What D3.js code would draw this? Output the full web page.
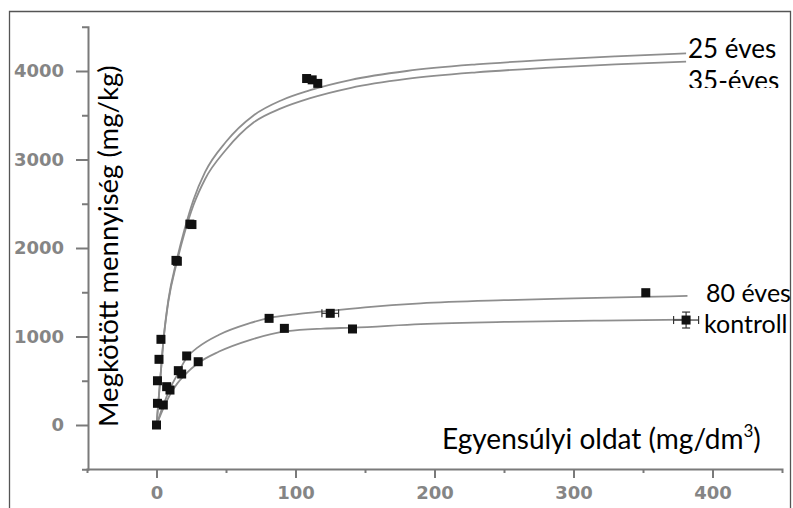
<!DOCTYPE html>
<html>
<head>
<meta charset="utf-8">
<script src="https://cdn.jsdelivr.net/npm/d3@7"></script>
<style>
  html, body { margin: 0; padding: 0; background: #fff; }
  svg { display: block; }
</style>
</head>
<body>
<svg id="chart" width="793" height="508"></svg>
<script>
// ---- data ----
const xTicks = [0, 100, 200, 300, 400];
const xMinorTicks = [50, 150, 250, 350];
const yTicks = [0, 1000, 2000, 3000, 4000];
const yMinorTicks = [500, 1500, 2500, 3500];
const xTitle = "Egyensúlyi oldat (mg/dm";
const yTitle = "Megkötött mennyiség (mg/kg)";
const seriesNames = ["25 éves", "35-éves", "80 éves", "kontroll"];

// measured points [C, q]
const points25 = [[0, 0], [0.7, 500], [3.2, 968], [14, 1860], [24, 2270], [108, 3915]];
const points35 = [[0.7, 245], [1.8, 742], [15, 1850], [25.5, 2265], [112, 3900], [116, 3860]];
const points80 = [[4.9, 226], [9.7, 395], [15.7, 614], [21.7, 780], [81, 1205], [125, 1262], [352, 1495]];
const pointsKontroll = [[7.3, 433], [18.1, 576], [30, 715], [92, 1092], [141, 1085], [381, 1186]];

// error bars [C, q, errC, errQ]
const errorBars = [[125, 1262, 6, 0], [381, 1186, 9, 90]];

// fitted curves [C, q]
const curve25 = [[0, 0], [2.5, 480], [5, 960], [8.5, 1410], [14.5, 1860], [20, 2200], [26.5, 2540], [35, 2860],
  [50, 3200], [70, 3500], [90, 3670], [110, 3780], [140, 3900], [180, 4000], [230, 4075], [280, 4125], [330, 4165], [381, 4200]];
const curve35 = [[0, 0], [2.5, 475], [5, 950], [8.5, 1390], [14.5, 1830], [20, 2160], [26.5, 2480], [35, 2780],
  [50, 3110], [70, 3420], [90, 3580], [110, 3690], [140, 3810], [180, 3910], [230, 3985], [280, 4035], [330, 4075], [381, 4105]];
const curve80 = [[0, 0], [5, 230], [10, 420], [15, 570], [21.7, 760], [30, 880], [45, 1020], [67, 1150], [81, 1210],
  [100, 1250], [118, 1280], [150, 1330], [190, 1375], [250, 1410], [300, 1430], [350, 1448], [382, 1458]];
const curveKontroll = [[0, 0], [5, 190], [10, 350], [15, 470], [20, 560], [30, 700], [45, 830], [67, 960], [94, 1060],
  [120, 1090], [141, 1100], [190, 1140], [250, 1165], [320, 1180], [381, 1190]];

// ---- drawing ----
const svg = d3.select("#chart");
const x = d3.scaleLinear().domain([-50, 450]).range([87, 782]);
const y = d3.scaleLinear().domain([-500, 4500]).range([469.25, 26.75]);

const axisColor = "#7a7a7a";
const tickFont = "DejaVu Sans, sans-serif";
const titleFont = "Lato, 'Open Sans', sans-serif";

// outer frame
svg.append("path")
  .attr("d", "M9.5,508 L9.5,11.5 L790.5,11.5 L790.5,508")
  .attr("fill", "none").attr("stroke", "#555").attr("stroke-width", 1.3);

// curves
const line = d3.line().x(d => x(d[0])).y(d => y(d[1])).curve(d3.curveMonotoneX);
[curve25, curve35, curve80, curveKontroll].forEach(c => {
  svg.append("path").attr("d", line(c)).attr("fill", "none")
    .attr("stroke", "#8e8e8e").attr("stroke-width", 1.8);
});

// error bars
errorBars.forEach(e => {
  const g = svg.append("g").attr("stroke", "#333").attr("stroke-width", 1.2);
  if (e[2] > 0) {
    g.append("line").attr("x1", x(e[0] - e[2])).attr("x2", x(e[0] + e[2])).attr("y1", y(e[1])).attr("y2", y(e[1]));
    g.append("line").attr("x1", x(e[0] - e[2])).attr("x2", x(e[0] - e[2])).attr("y1", y(e[1]) - 4).attr("y2", y(e[1]) + 4);
    g.append("line").attr("x1", x(e[0] + e[2])).attr("x2", x(e[0] + e[2])).attr("y1", y(e[1]) - 4).attr("y2", y(e[1]) + 4);
  }
  if (e[3] > 0) {
    g.append("line").attr("x1", x(e[0])).attr("x2", x(e[0])).attr("y1", y(e[1] - e[3])).attr("y2", y(e[1] + e[3]));
    g.append("line").attr("x1", x(e[0]) - 4).attr("x2", x(e[0]) + 4).attr("y1", y(e[1] - e[3])).attr("y2", y(e[1] - e[3]));
    g.append("line").attr("x1", x(e[0]) - 4).attr("x2", x(e[0]) + 4).attr("y1", y(e[1] + e[3])).attr("y2", y(e[1] + e[3]));
  }
});

// markers
const ms = 9;
[points25, points35, points80, pointsKontroll].forEach(pts => {
  svg.append("g").selectAll("rect").data(pts).join("rect")
    .attr("x", d => x(d[0]) - ms / 2).attr("y", d => y(d[1]) - ms / 2)
    .attr("width", ms).attr("height", ms).attr("fill", "#111");
});

// axes
function styleAxis(g) {
  g.select(".domain").attr("stroke", axisColor).attr("stroke-width", 2);
  g.selectAll(".tick line").attr("stroke", axisColor).attr("stroke-width", 2);
  g.selectAll(".tick text").attr("fill", "#858585").attr("font-family", tickFont)
    .attr("font-size", 18).attr("font-weight", "bold");
}
const fmt = d3.format("d");
const gx = svg.append("g").attr("transform", "translate(0,469)")
  .call(d3.axisBottom(x).tickValues(xTicks).tickFormat(fmt).tickSize(9).tickSizeOuter(4).tickPadding(8));
styleAxis(gx);
svg.append("g").attr("transform", "translate(0,469)")
  .call(d3.axisBottom(x).tickValues(xMinorTicks).tickSize(4).tickFormat(""))
  .call(g => { g.select(".domain").remove(); g.selectAll(".tick line").attr("stroke", axisColor).attr("stroke-width", 2); });

const gy = svg.append("g").attr("transform", "translate(88,0)")
  .call(d3.axisLeft(y).tickValues(yTicks).tickFormat(fmt).tickSize(12).tickSizeOuter(6).tickPadding(12));
styleAxis(gy);
svg.append("g").attr("transform", "translate(88,0)")
  .call(d3.axisLeft(y).tickValues(yMinorTicks).tickSize(6).tickFormat(""))
  .call(g => { g.select(".domain").remove(); g.selectAll(".tick line").attr("stroke", axisColor).attr("stroke-width", 2); });

// axis titles
svg.append("text")
  .attr("transform", "translate(118,427) rotate(-90)")
  .attr("font-family", titleFont).attr("font-size", 27.5).attr("fill", "#000")
  .text(yTitle);

const xt = svg.append("text").attr("x", 442).attr("y", 449)
  .attr("font-family", titleFont).attr("font-size", 28).attr("fill", "#000");
xt.append("tspan").text(xTitle);
xt.append("tspan").attr("font-size", 17).attr("dy", -12).text("3");
xt.append("tspan").attr("dy", 12).text(")");

// series labels
const defs = svg.append("defs");
defs.append("clipPath").attr("id", "clip35").append("rect")
  .attr("x", 0).attr("y", 0).attr("width", 793).attr("height", 88);
const labelPos = [[688, 58], [688, 90], [706, 302], [704, 333]];
const labelSize = [26, 26, 25, 25];
seriesNames.forEach((n, i) => {
  const t = svg.append("text").attr("x", labelPos[i][0]).attr("y", labelPos[i][1])
    .attr("font-family", titleFont).attr("font-size", labelSize[i]).attr("fill", "#000").text(n);
  if (i === 1) t.attr("clip-path", "url(#clip35)");
});
</script>
</body>
</html>
